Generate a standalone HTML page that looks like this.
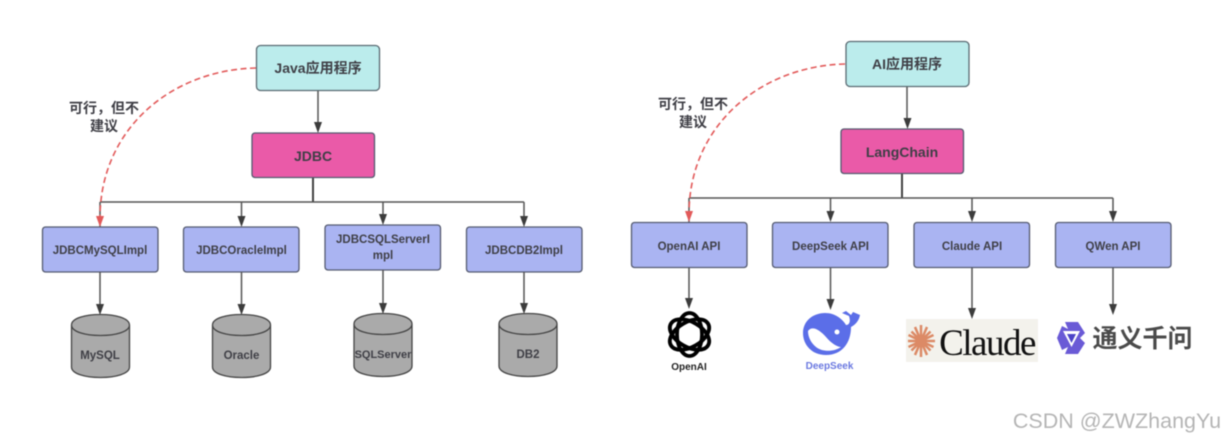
<!DOCTYPE html>
<html><head><meta charset="utf-8"><style>
html,body{margin:0;padding:0;background:#fff}
svg{display:block;filter:blur(.5px)}
text{font-family:"Liberation Sans","Noto Sans CJK SC",sans-serif;font-weight:700;fill:#3f3f46;text-anchor:middle;font-size:12px}
.l{stroke:#555;stroke-width:1.5;fill:none}
.t{stroke:#444;stroke-width:2;fill:none}
.h{fill:#3c3c3c}
.b{fill:#aab4f2;stroke:#555b70;stroke-width:1.3}
.p{fill:#ea5aa8;stroke:#555b70;stroke-width:1.3}
.c{fill:#bbecec;stroke:#5a6a72;stroke-width:1.3}
.d{fill:#aaa;stroke:#444;stroke-width:1.3}
.r{stroke:#e25a5a;stroke-width:1.6;fill:none;stroke-dasharray:6 3.500}
</style></head><body>
<svg width="1225" height="441" viewBox="0 0 1225 441" xmlns="http://www.w3.org/2000/svg">
<!-- LEFT -->
<rect class="c" x="256.500" y="45.500" width="123" height="45" rx="4"/>
<text x="318" y="73" style="font-size:14px">Java应用程序</text>
<path class="l" d="M318 91V124"/><path class="h" d="M318 133l-4-11h8z"/>
<rect class="p" x="252" y="133" width="122.500" height="44.500" rx="3"/>
<text x="313" y="161" style="font-size:14px">JDBC</text>
<path class="t" d="M313 178V202"/>
<path class="l" d="M100 202H524M100 202V227M241.500 202V219M383 202V217M524 202V219"/>
<path class="h" d="M241.500 227l-4-11h8zM383 225l-4-11h8zM524 227l-4-11h8z"/>
<path class="r" d="M256 68C170 70 100 130 100 218"/>
<path d="M100 227l-4-11h8z" fill="#e25a5a"/>
<text x="104" y="113" style="font-size:14px">可行，但不</text><text x="104" y="131" style="font-size:14px">建议</text>
<rect class="b" x="42.500" y="227" width="115.500" height="45" rx="3"/><text x="100" y="254" style="font-size:11.500px">JDBCMySQLImpl</text>
<rect class="b" x="183.500" y="227" width="115.500" height="45" rx="3"/><text x="241.500" y="254" style="font-size:11.500px">JDBCOracleImpl</text>
<rect class="b" x="325" y="225" width="115.500" height="45" rx="3"/><text x="383" y="243" style="font-size:11.500px">JDBCSQLServerI</text><text x="383" y="259" style="font-size:11.500px">mpl</text>
<rect class="b" x="466.500" y="227" width="115.500" height="45" rx="3"/><text x="524" y="254" style="font-size:11.500px">JDBCDB2Impl</text>
<path class="l" d="M100 272V306M241.500 272V306M383 270V305M524 272V305"/>
<path class="h" d="M100 315l-4-11h8zM241.500 315l-4-11h8zM383 314l-4-11h8zM524 314l-4-11h8z"/>
<path class="d" d="M71.500 325V367C71.500 381 129.500 381 129.500 367V325C129.500 311 71.500 311 71.500 325C71.500 339 129.500 339 129.500 325"/>
<path class="d" d="M212.500 325V367C212.500 381 270.500 381 270.500 367V325C270.500 311 212.500 311 212.500 325C212.500 339 270.500 339 270.500 325"/>
<path class="d" d="M354 324V366C354 380 412 380 412 366V324C412 310 354 310 354 324C354 338 412 338 412 324"/>
<path class="d" d="M499 324V366C499 380 557 380 557 366V324C557 310 499 310 499 324C499 338 557 338 557 324"/>
<text x="100" y="359" style="font-size:11.500px">MySQL</text><text x="241.500" y="359" style="font-size:11.500px">Oracle</text><text x="383" y="358" style="font-size:11px">SQLServer</text><text x="528" y="358" style="font-size:11.500px">DB2</text>
<!-- RIGHT -->
<rect class="c" x="846" y="41.500" width="123" height="45" rx="4"/>
<text x="907" y="69" style="font-size:14px">AI应用程序</text>
<path class="l" d="M907 87V120"/><path class="h" d="M907.500 129l-4-11h8z"/>
<rect class="p" x="841" y="129" width="122.500" height="44.500" rx="3"/>
<text x="902" y="157" style="font-size:14px">LangChain</text>
<path class="t" d="M902 174V198"/>
<path class="l" d="M689 198H1113M689 198V222M830.500 198V214M972 198V214M1113 198V214"/>
<path class="h" d="M830.500 222l-4-11h8zM972 222l-4-11h8zM1113 222l-4-11h8z"/>
<path class="r" d="M845 64C760 66 689 126 689 214"/>
<path d="M689 222l-4-11h8z" fill="#e25a5a"/>
<text x="693" y="109" style="font-size:14px">可行，但不</text><text x="693" y="127" style="font-size:14px">建议</text>
<rect class="b" x="631.500" y="222.500" width="115.500" height="45" rx="3"/><text x="689" y="250" style="font-size:11.500px">OpenAI API</text>
<rect class="b" x="772.500" y="222.500" width="115.500" height="45" rx="3"/><text x="830.500" y="250" style="font-size:11.500px">DeepSeek API</text>
<rect class="b" x="914" y="222.500" width="115.500" height="45" rx="3"/><text x="972" y="250" style="font-size:11.500px">Claude API</text>
<rect class="b" x="1055.500" y="222.500" width="115.500" height="45" rx="3"/><text x="1113" y="250" style="font-size:11.500px">QWen API</text>
<path class="l" d="M689 268V300M830.500 268V300M972 268V311M1113 268V306"/>
<path class="h" d="M689 309l-4-11h8zM830.500 310l-4-11h8zM972 319l-4-11h8zM1113 315l-4-11h8z"/>
<!-- OpenAI knot -->
<g fill="none" stroke="#000" stroke-width="3.800">
<ellipse cx="689.500" cy="334.500" rx="12.500" ry="21.500"/>
<ellipse cx="689.500" cy="334.500" rx="12.500" ry="21.500" transform="rotate(60 689.500 334.500)"/>
<ellipse cx="689.500" cy="334.500" rx="12.500" ry="21.500" transform="rotate(120 689.500 334.500)"/>
</g>
<text x="689" y="370" style="font-size:10px;fill:#222">OpenAI</text>
<!-- DeepSeek whale -->
<path fill="#5b6ee8" d="M803 333C803 321 813 313 825 313C836 313 843 320 846 325C849 325 851 322 849 316L842 313L846 311L851 315L853 312L860 315C859 321 855 325 851 327C851 343 842 355 826 355C812 355 803 345 803 333Z"/>
<path fill="#fff" d="M808 331C812 325 820 330 826 337C831 343 837 347 841 347C834 352 822 352 816 347C811 343 808 337 808 331Z"/>
<circle cx="837" cy="332" r="2.500" fill="#fff"/>
<text x="829.500" y="369" style="font-size:10px;fill:#6a78e0">DeepSeek</text>
<!-- Claude -->
<rect x="906" y="319" width="132" height="43" fill="#f3f2ec"/>
<g stroke="#dc8a66" stroke-width="2.500">
<path d="M921 325V357M908 341H935M911.500 331.500L930.500 350.500M930.500 331.500L911.500 350.500M915 327L927 355M927 327L915 355M908.500 335L933.500 347M933.500 335L908.500 347"/>
</g>
<text x="987" y="355" style="font-family:'Liberation Serif',serif;font-weight:400;font-size:37px;fill:#111;letter-spacing:-1.500px">Claude</text>
<!-- Qwen -->
<path fill="#6a5ad6" d="M1065 322L1078 322L1085 333L1080 338L1085 343L1078 354L1065 354L1068 347L1062 350L1057 338L1062 326L1068 329Z"/>
<path fill="#fff" d="M1063 331H1080L1071.500 347Z"/>
<path fill="#4d44c8" d="M1067 334H1076L1071.500 343Z"/>
<text x="1142.500" y="347" style="font-size:25px;font-weight:700;fill:#4a4a4a;letter-spacing:0">通义千问</text>
<text x="1117" y="428" style="font-size:21.500px;font-weight:400;fill:#b5b5b5">CSDN @ZWZhangYu</text>
</svg>
</body></html>
